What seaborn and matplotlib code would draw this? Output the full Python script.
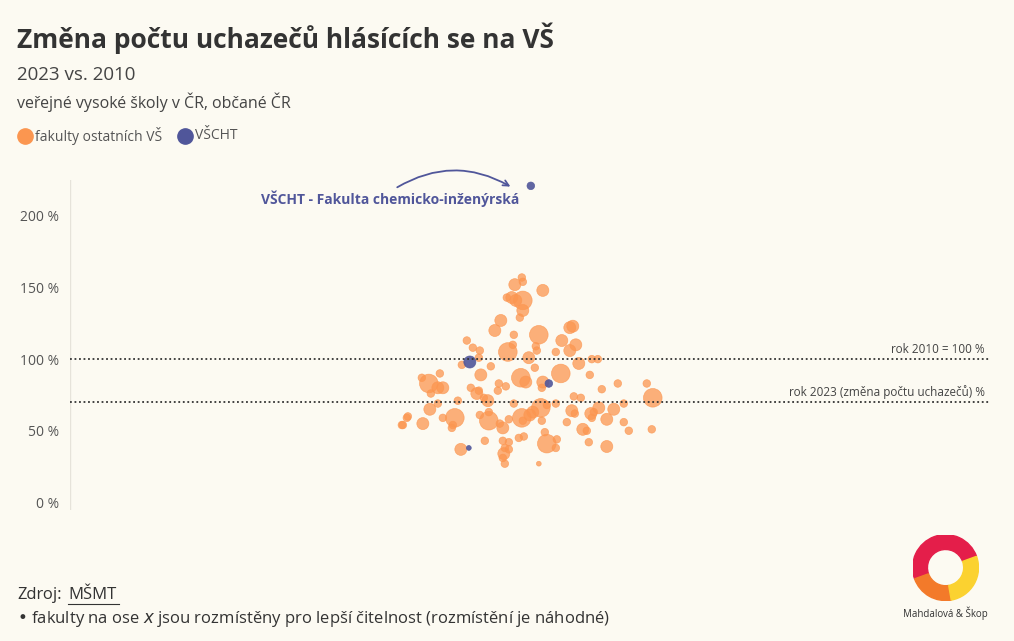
import matplotlib.pyplot as plt
import seaborn as sns
import pandas as pd
from matplotlib.patches import Wedge

plt.rcParams["font.family"] = "Open Sans"
BG = "#fcfaf2"
ORANGE = "#fb9650"
BLUE = "#50569a"

# poloha na ose x je jen pro čitelnost (rozmístění), hodnota = změna v %
poloha = [522, 523, 515, 543, 507, 512, 523, 516, 523, 520, 501, 495, 514, 539, 570, 573,
          562, 576, 570, 513, 508, 536, 537, 529, 556, 467, 473, 480, 479, 462, 491, 535,
          579, 592, 598, 561, 590, 481, 440, 422, 429, 438, 443, 431, 521, 526, 543, 542,
          499, 506, 498, 471, 479, 477, 484, 488, 602, 618, 647, 653, 581, 574, 624, 458,
          438, 430, 514, 556, 541, 533, 530, 522, 523, 547, 572, 575, 591, 599, 594, 592,
          614, 607, 567, 624, 629, 652, 583, 587, 589, 607, 489, 489, 480, 455, 443, 453,
          452, 407, 403, 423, 509, 542, 500, 503, 545, 519, 524, 485, 503, 509, 547, 557,
          556, 505, 509, 461, 504, 503, 505, 539, 408, 402]
zmena = [157, 154, 152, 148, 143, 143, 141, 141, 134, 129, 127, 120, 117, 117, 122, 123,
         113, 110, 106, 110, 105, 109, 106, 101, 105, 113, 108, 106, 101, 96, 95, 94,
         97, 100, 100, 90, 89, 89, 90, 87, 83, 80, 80, 76, 87, 84, 84, 80,
         83, 81, 78, 80, 78, 76, 73, 71, 79, 83, 83, 73, 73, 74, 69, 71,
         69, 65, 69, 69, 66, 63, 61, 59, 57, 68, 64, 62, 62, 66, 63, 59,
         65, 58, 56, 56, 50, 51, 51, 50, 42, 39, 63, 57, 61, 59, 59, 54,
         52, 59, 54, 55, 58, 57, 55, 52, 49, 45, 46, 43, 43, 42, 41, 44,
         38, 38, 37, 37, 34, 31, 27, 27, 60, 54]
velikost = [1, 1, 2, 2, 1, 2, 3, 2, 2, 1, 2, 2, 1, 3, 2, 2,
            2, 2, 2, 1, 3, 1, 1, 2, 1, 1, 1, 1, 1, 1, 1, 1,
            2, 1, 1, 3, 1, 2, 1, 1, 3, 2, 2, 1, 3, 2, 2, 1,
            1, 1, 1, 1, 1, 2, 1, 2, 1, 1, 1, 3, 1, 1, 1, 1,
            1, 2, 1, 1, 3, 2, 2, 3, 1, 1, 2, 1, 2, 2, 1, 1,
            2, 2, 1, 1, 1, 1, 2, 1, 1, 2, 1, 3, 1, 3, 1, 1,
            1, 1, 1, 2, 1, 1, 1, 2, 1, 1, 1, 1, 1, 1, 3, 1,
            1, 1, 1, 2, 2, 1, 1, 0, 1, 1]

vscht_poloha = [470, 549, 469, 531]
vscht_zmena = [98, 83, 38, 221]
vscht_velikost = [2, 1, 0, 1]

df = pd.DataFrame({"x": poloha, "y": zmena, "s": velikost})
dv = pd.DataFrame({"x": vscht_poloha, "y": vscht_zmena, "s": vscht_velikost})
sizes = {0: 12, 1: 30, 2: 75, 3: 180}

fig = plt.figure(figsize=(10.14, 6.41), dpi=100, facecolor=BG)
ax = fig.add_axes([0.069, 0.204, 0.907, 0.515], facecolor=BG)
sns.scatterplot(data=df, x="x", y="y", size="s", sizes=sizes, color=ORANGE, alpha=0.75,
                edgecolor=ORANGE, linewidth=0.5, legend=False, ax=ax)
sns.scatterplot(data=dv, x="x", y="y", size="s", sizes=sizes, color=BLUE, alpha=0.9,
                edgecolor=BLUE, linewidth=0.5, legend=False, ax=ax)

ax.set_xlim(70, 990)
ax.set_ylim(-5.5, 225)
ax.set_yticks([0, 50, 100, 150, 200])
ax.set_yticklabels(["0 %", "50 %", "100 %", "150 %", "200 %"], color="#555555", fontsize=10)
ax.set_xticks([])
ax.set_xlabel("")
ax.set_ylabel("")
ax.tick_params(axis="y", length=0, pad=8)
for sp in ax.spines.values():
    sp.set_visible(False)
ax.axvline(70, color="#e6e3da", lw=1)

for yv, lab in [(100, "rok 2010 = 100 %"), (70, "rok 2023 (změna počtu uchazečů) %")]:
    ax.axhline(yv, color="#333333", ls=(0, (1, 1.5)), lw=1.3)
    ax.text(985, yv + 2, lab, ha="right", va="bottom", fontsize=8.5, color="#444444")

ax.annotate("", xy=(513, 219.5), xytext=(395, 219),
            arrowprops=dict(arrowstyle="->", color=BLUE, lw=1.3,
                            connectionstyle="arc3,rad=-0.3"))
ax.text(390, 212, "VŠCHT - Fakulta chemicko-inženýrská", ha="center", va="center",
        fontsize=10, fontweight="bold", color=BLUE)

fig.text(0.017, 0.94, "Změna počtu uchazečů hlásících se na VŠ", fontsize=19,
         fontweight="bold", color="#333333", va="center")
fig.text(0.017, 0.883, "2023 vs. 2010", fontsize=13.5, color="#444444", va="center")
fig.text(0.017, 0.84, "veřejné vysoké školy v ČR, občané ČR", fontsize=11.5, color="#444444", va="center")
fig.add_artist(plt.Line2D([0.025], [0.788], marker="o", ms=11, color=ORANGE, lw=0))
fig.text(0.035, 0.788, "fakulty ostatních VŠ", fontsize=10, color="#555555", va="center")
fig.add_artist(plt.Line2D([0.182], [0.788], marker="o", ms=11, color=BLUE, lw=0))
fig.text(0.192, 0.788, "VŠCHT", fontsize=10, color="#555555", va="center")

fig.text(0.017, 0.072, "Zdroj:", fontsize=12, color="#333333", va="center")
fig.text(0.067, 0.072, "MŠMT", fontsize=12, color="#333333", va="center")
fig.add_artist(plt.Line2D([0.067, 0.117], [0.057, 0.057], color="#333333", lw=0.8))
fig.text(0.017, 0.035, "• fakulty na ose $x$ jsou rozmístěny pro lepší čitelnost (rozmístění je náhodné)",
         fontsize=12, color="#333333", va="center")

# logo
lax = fig.add_axes([0.9, 0.063, 0.065, 0.103])
lax.set_xlim(-1, 1); lax.set_ylim(-1, 1); lax.set_aspect("equal"); lax.axis("off")
lax.add_patch(Wedge((0, 0), 1, 20, 200, width=0.45, color="#e41e4a"))
lax.add_patch(Wedge((0, 0), 1, 200, 280, width=0.45, color="#f37a2a"))
lax.add_patch(Wedge((0, 0), 1, 280, 20, width=0.45, color="#fbd230"))
fig.text(0.932, 0.043, "Mahdalová & Škop", fontsize=7, color="#333333", ha="center", va="center")

fig.savefig("out.png", dpi=100, facecolor=BG)
